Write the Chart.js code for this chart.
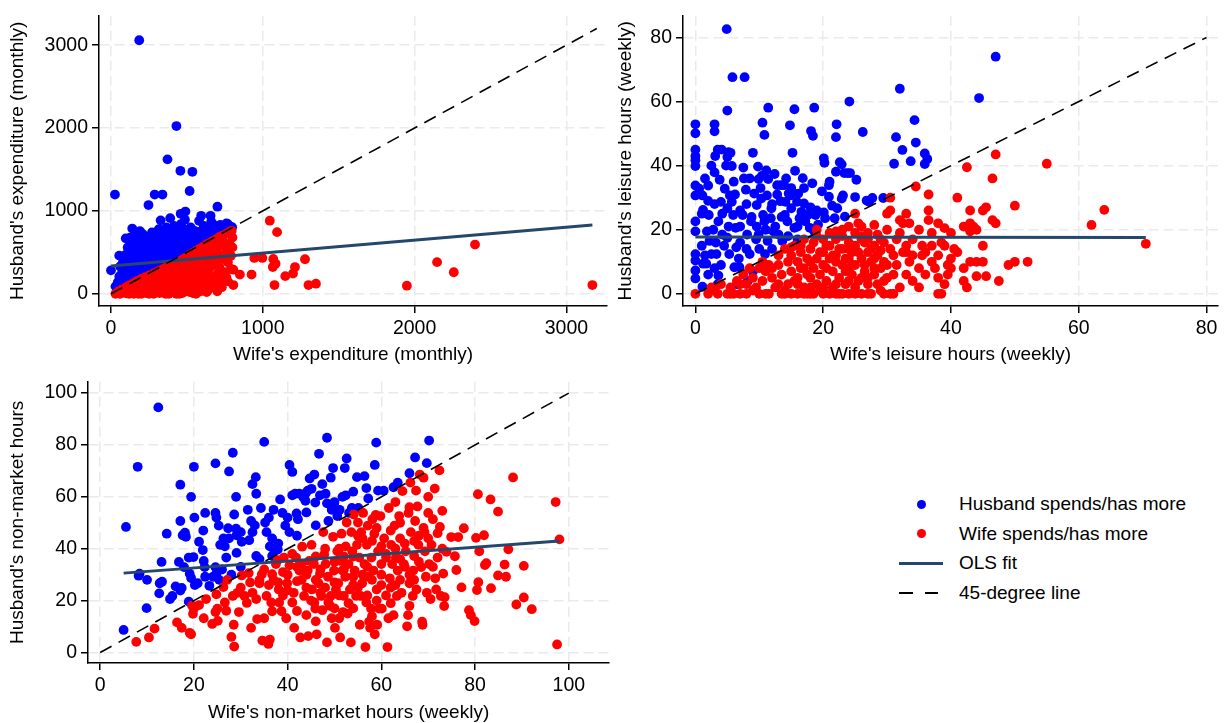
<!DOCTYPE html>
<html>
<head>
<meta charset="utf-8">
<script src="https://cdn.jsdelivr.net/npm/chart.js@4.4.1/dist/chart.umd.min.js"></script>
<style>
  body { margin: 0; background: #fff; width: 1225px; height: 723px; position: relative; overflow: hidden; font-family: 'Liberation Sans', Arial, sans-serif; }
  canvas { position: absolute; }
  .lg-text { position: absolute; left: 959px; font-size: 19px; line-height: 22px; color: #000; white-space: nowrap; }
  .lg-dot { position: absolute; width: 9px; height: 9px; border-radius: 50%; left: 916.5px; }
  .lg-line { position: absolute; height: 3px; background: #24476b; left: 899px; width: 44px; }
  .lg-dash { position: absolute; height: 2px; background: #000; }
</style>
</head>
<body>
<canvas id="expChart" width="612" height="368" style="left:0;top:0"></canvas>
<canvas id="leisureChart" width="613" height="368" style="left:612px;top:0"></canvas>
<canvas id="nmChart" width="614" height="357" style="left:0;top:366px"></canvas>

<div class="lg-dot" style="top:499.5px;background:#0000ff"></div>
<div class="lg-text" style="top:493px">Husband spends/has more</div>
<div class="lg-dot" style="top:529px;background:#ff0000"></div>
<div class="lg-text" style="top:523px">Wife spends/has more</div>
<div class="lg-line" style="top:561.5px"></div>
<div class="lg-text" style="top:552px">OLS fit</div>
<div class="lg-dash" style="top:592px;left:899px;width:14px"></div>
<div class="lg-dash" style="top:592px;left:925px;width:13px"></div>
<div class="lg-text" style="top:582px">45-degree line</div>

<script>
// Tick labels
const expTicks = [0, 1000, 2000, 3000];
const leisureTicksX = [0, 20, 40, 60, 80];
const leisureTicksY = [0, 20, 40, 60, 80];
const nmTicks = [0, 20, 40, 60, 80, 100];

// Panel 1: monthly expenditure (wife x, husband y)
const expHusbandMore = [
  [186,3059],[431,2024],[372,1622],[457,1484],[536,1472],[518,1240],[26,1197],[288,1197],[339,1197],[247,1071],
  [701,1051],[459,965],[490,992],[594,941],[656,941],[390,913],[327,886],[487,894],[768,843],[671,843],
  [684,795],[594,756],[531,776],[140,787],[191,756],[97,669],[125,677],[54,461],[0,283],[727,756],[798,803],
  [30,90],[45,140],[55,210],[60,330],[70,180],[75,270],[80,390],[85,120],[90,230],[95,470],[100,310],[105,170],
  [110,560],[115,380],[120,250],[125,650],[130,440],[135,190],[140,320],[145,520],[150,600],[155,270],[160,400],
  [165,700],[170,220],[175,350],[180,480],[185,560],[190,290],[195,640],[200,380],[205,250],[210,720],[215,450],
  [220,320],[225,530],[230,610],[235,280],[240,400],[245,680],[250,350],[255,480],[260,560],[265,300],[270,740],
  [275,420],[280,620],[285,350],[290,500],[295,700],[300,440],[305,330],[310,580],[315,780],[320,380],[325,520],
  [330,650],[335,400],[340,470],[345,720],[350,560],[355,420],[360,610],[365,800],[370,480],[375,680],[380,530],
  [385,430],[390,740],[395,600],[400,470],[405,660],[410,550],[415,820],[420,500],[425,700],[430,600],[435,480],
  [440,760],[445,560],[450,650],[455,520],[460,840],[465,700],[470,600],[475,540],[480,780],[490,640],[500,580],
  [505,720],[510,660],[520,600],[525,800],[530,680],[540,620],[550,760],[560,700],[570,640],[580,880],[590,720],
  [600,660],[610,820],[620,700],[640,780],[650,740],[660,870],[680,760],[700,800],[720,830],[740,780],[760,850],
  [780,820],[60,150],[150,230],[240,330],[330,440],[420,540],[110,480],[200,540],[290,610],[380,690],[470,760]
];
const expWifeMore = [
  [1046,882],[1094,744],[944,433],[997,433],[1069,421],[1084,362],[1066,323],[926,232],[806,291],[806,106],
  [849,232],[1077,106],[1148,213],[1199,244],[1212,323],[1278,417],[1301,106],[1350,122],[1949,98],[2148,382],
  [2258,260],[2398,594],[3171,106],
  [40,10],[50,30],[60,5],[70,50],[80,20],[90,60],[100,5],[100,80],[110,40],[120,100],[125,15],[130,60],[140,120],
  [145,30],[150,0],[155,90],[160,140],[165,50],[170,10],[175,110],[180,160],[185,70],[190,30],[195,130],[200,180],
  [200,0],[210,90],[215,150],[220,40],[225,200],[230,110],[235,10],[240,170],[245,60],[250,220],[255,130],[260,30],
  [265,190],[270,90],[275,240],[280,0],[280,150],[285,50],[290,210],[295,110],[300,260],[305,20],[310,170],[315,80],
  [320,280],[325,130],[330,230],[335,40],[340,190],[345,300],[350,100],[355,250],[360,0],[360,160],[365,320],[370,60],
  [375,210],[380,280],[385,120],[390,340],[395,20],[400,180],[405,250],[410,80],[415,360],[420,140],[425,300],[430,30],
  [435,220],[440,380],[445,100],[450,270],[450,0],[455,160],[460,400],[465,50],[470,330],[475,200],[480,420],[485,120],
  [490,280],[495,440],[500,30],[500,350],[505,180],[510,460],[515,240],[520,90],[525,390],[530,480],[535,150],[540,300],
  [545,500],[550,60],[555,220],[560,420],[565,520],[570,130],[575,350],[580,540],[585,260],[590,450],[595,100],[600,560],
  [605,320],[610,200],[615,480],[620,580],[625,140],[630,380],[635,600],[640,260],[645,500],[650,70],[655,620],[660,330],
  [665,440],[670,180],[675,640],[680,90],[685,540],[690,380],[695,660],[700,240],[705,480],[710,680],[715,320],[720,580],
  [725,150],[730,700],[740,420],[745,620],[750,260],[755,720],[760,520],[770,380],[775,740],[780,600],[790,460],[795,760],
  [800,680],[800,560],[790,300],[760,200],[730,80],[700,120],[640,50],[590,30],[520,20],[380,0],[320,10],[250,0],
  [180,0],[120,0],[60,0],[30,0],[430,0],[540,10],[470,10],[660,120],[720,240],[770,150],[630,20],[560,0],[700,30]
];
const expOls = [[0, 335], [3171, 831]];
const expDiag = [[0, 0], [3200, 3200]];

// Panel 2: weekly leisure hours
const leisureHusbandMore = [
  [4.9,82.6],[5.8,67.6],[7.7,67.6],[47,74],[32,64],[44.4,61.1],[24.1,60],[5,57.2],[11.4,58.1],[15.5,57.6],
  [18.6,58.1],[0,52.9],[0,50.1],[3,52.9],[3,50.7],[10.5,53.4],[10.8,49.6],[14.8,52.6],[22.1,52.9],[22,48.9],
  [18.1,50.8],[18.4,49.3],[26.2,50.5],[31.4,48.9],[34.3,54.2],[34.5,47.2],[32.4,44.9],[33.7,41.4],[31.1,40.6],
  [35.9,43.8],[36.3,42.1],[35.9,40.5],[0,45],[0,43],[0,41.7],[0,39.9],[0,33.8],[0,30.7],[0,22.6],[0,19.5],
  [0,12.4],[0,10.4],[0,7.3],[0,4.8],[0.6,32.8],[1.1,30.7],[1.2,26.2],[2,33.8],[2.1,24.6],[1.8,19.5],[2.2,16.5],
  [1.2,9.4],[1.1,2.2],[1.7,9.4],[2.5,12.4],[3,37.9],[3.1,43],[3.5,45],[4.1,45],[3.8,35.6],[4,28.7],[3.6,22.6],
  [3.3,12.4],[3.6,5.7],[4.2,18.5],[4.6,32.8],[5,26.7],[5,42.7],[5.2,44.2],[5.5,44],[5.4,30.7],[5.7,28.7],
  [5.9,24.6],[5,17.5],[5.3,12.4],[6.1,8.3],[5.7,39.9],[6.3,20.6],[6.4,14.5],[6.9,8.3],[7.4,24.6],[7.5,39.4],
  [7.9,32.5],[8.1,18.5],[8.5,12.4],[8.7,22.6],[9,44],[9.2,31.3],[9.6,27.7],[9.8,39.7],[9.9,35.8],[9.9,18.5],
  [10.3,29.7],[10.4,36.8],[10.6,24.6],[10.8,22.6],[10.9,12.4],[11.1,38.5],[11.2,30.7],[11.3,16.5],[11.4,35.8],
  [11.8,23.6],[11.9,26.7],[12.2,19.5],[12.4,37.4],[12.8,33.9],[13,18.5],[13.3,28.9],[13.4,33.9],[13.6,16.5],
  [13.9,33.9],[14,24.6],[14.1,28.7],[14.4,22.6],[14.6,31.3],[14.9,30.7],[15,26.7],[15.2,44],[15.5,20.6],
  [15.6,38.4],[15.9,28.7],[16.1,31.3],[16.3,23.6],[16.6,25.6],[16.8,36.1],[17,28.2],[17.2,22.6],[17.6,24.6],
  [17.9,20.6],[18.3,34.5],[18.6,19.5],[18.8,24.6],[19.2,21.6],[20.1,42.3],[20.2,40.9],[20.1,25.4],[20.3,23.6],
  [20.9,33.9],[20.9,30.3],[21.4,27.5],[21.8,23.6],[22,38.1],[22.2,26.7],[22.6,41.1],[22.9,40.4],[22.9,29.7],
  [23.1,30.7],[23.3,37.7],[23.4,24.1],[23.8,37.7],[24.2,37.7],[25,30.2],[25.2,35.6],[26.8,29.1],[27.2,28.7],
  [27.7,29.9],[29.4,29.9],[1,15],[2,6],[3,28],[4,9],[6,35],[7,16],[8,28],[9,7],[10,14],[7,21],[8.5,36],[12,28],
  [6.5,3],[2.8,20],[1.5,36],[4.5,15],[9.5,17],[12.5,21],[14.5,18],[16,17],[11,9],[3.5,3],
  [1,25],[2,29],[3.2,16],[4.2,25],[5.2,21],[6.2,31],[7,26],[8,14],[8.8,24],[9.6,21],[10.2,33],[11,20],[12,14],
  [12.8,31],[13.5,24],[14.2,36],[15,33],[16,21],[17,33],[18,27],[19,26],[19.8,32],[21,35],[6.8,11],[7.6,36],
  [2.5,40],[4.8,40],[1.5,12],[3,8],[8.2,4]
];
const leisureWifeMore = [
  [0,0],[2,0],[3.5,0],[5,0],[5.5,0],[6,0],[7,0],[8,0],[10,0],[11,0],[11.5,0],[13.5,0],[14,0],[15,0],[16,0],
  [17,0],[17.5,0],[18,0],[18.5,0],[20,0],[21,0],[22,0],[22.5,0],[23,0],[24,0],[25,0],[26,0],[27,0],[27.5,0],
  [29.5,0],[30.5,0],[31,0],[38,0],[38.5,0],
  [2.5,2],[3,1.5],[4,3],[5.5,2],[6.5,4],[7.5,6],[8,3],[8.5,8],[9,5],[9.5,2],[10,8],[10.5,4],[11,7],[11.5,9],
  [12,5],[12.5,2],[13,9],[13,12],[13.5,6],[14,14],[14.5,3],[14.5,10],[15,7],[15,12],[15.5,15],[16,5],[16,10],
  [16.5,13],[17,2],[17,8],[17,17],[17.5,11],[18,5],[18,14],[18.5,8],[18.5,16],[19,3],[19,11],[19,18],[19.5,6],
  [20,9],[20,13],[20,17],[20.5,4],[20.5,8],[21,11],[21,15],[21,19],[21.5,2],[21.5,7],[22,12],[22,17],[22,10],
  [22.5,5],[23,9],[23,14],[23,18],[23.5,3],[23.5,7],[24,11],[24,16],[24.5,6],[24.5,13],[25,2],[25,9],[25,15],
  [25,19],[25.5,22],[25,25],[25.5,4],[26,11],[26,17],[26.5,7],[27,13],[27,3],[27.5,10],[28,15],[28,21.5],[28,6],
  [28.5,12],[29,1],[29,8],[29.5,4],[30,20],[29.5,16],[30,25],[30.5,26],[31,12],[31,6],[30.5,30],[31.5,17],[32,2],
  [32,23],[32.5,22],[33,15],[32.5,13],[33.5,22],[33.5,10],[34,12],[34.5,33.5],[35,2],[35.5,15],[35.5,12],[36,6],
  [36.5,31],[36.5,26],[37,19],[37,10],[37.5,8],[38,5],[38,12],[38.5,16],[39,20.5],[39,15],[39.5,6],[39.5,9],
  [40,19],[40,11],[40,8],[40.5,14],[41,30],[41,13],[42,21],[42,8],[42,4],[42.5,2],[42.5,39.5],[43,22],[43,19.5],
  [43,26],[43,10],[43.5,21],[44,20],[44,5.5],[44,10],[45,26],[45,15],[45,10],[45.5,5.5],[45.5,27],[46.5,36],
  [46.5,23],[47,43.5],[47,22],[47.5,4],[49,9],[50,10],[50,27.5],[52,10],[55,40.6],[62,21.5],[64,26.2],[70.5,15.6],
  [36.5,23],[33,13],[26,18],[26.5,16],[27,17],[28.5,18.5],[29,13.5],[28,8],[24,21],[23,20],[26,21],[22,19.5],
  [19,20],[16.5,15],[15,14.5],[24,14],[30,5],[29,17],[12,8],[9,1],[7,3],[14,1],[19.5,1],[24,4],[27,5],
  [13,3],[15.5,4],[16.5,8],[17.5,6],[18,10],[19.5,13],[20.5,15],[21.5,12],[22.5,14],[23.5,11],[24.5,9],[25.5,13],
  [26.5,9],[27,19],[27.5,14],[28.5,3],[29.5,10],[30.5,14],[31.5,9],[32,19],[33,6],[34,17],[35,20],[35,8],
  [36,13],[37,15],[38,22],[39,3],[20,2],[22,3],[24,8],[26,5],[28,11],[30,9],[33,25],[34,4],[16,3],[18,2],[10.5,10]
];
const leisureOls = [[0, 17.7], [70.5, 17.6]];
const leisureDiag = [[0, 0], [80, 80]];

// Panel 3: weekly non-market hours
const nmHusbandMore = [
  [5.5,48.4],[5,8.7],[8,71.6],[12.4,94.5],[8.4,30.4],[8.2,29.6],[10,28],[9.9,17.1],[13.1,34.9],[12.7,26.7],
  [13.2,27.3],[12.6,22.8],[14.2,45.8],[17.1,64.7],[17.1,50.7],[17.6,45.2],[18.1,46.2],[18.3,44.6],[19.4,60],
  [20,71.6],[20.1,52],[14.9,20.6],[15.4,21.8],[16.1,25.5],[17.1,23.9],[17.4,24.9],[16.8,34.9],[17.9,32.9],
  [18.9,36.6],[19.9,36.8],[19.1,30.4],[19.4,28.7],[20.2,26],[20.8,26.7],[18.9,19.6],[22.4,53.8],[24.6,72.9],
  [24.6,53.8],[24.8,52],[25.3,48.9],[22,47],[21.1,42.7],[21.9,39.5],[22.1,35.3],[22.3,32.9],[22.4,29.2],
  [23.3,25.7],[24.1,29.2],[24.6,32.9],[24.8,30.4],[25.4,28],[25.6,41.5],[26.3,44],[26.6,40.9],[26.9,36.6],
  [27.3,47.9],[27.5,69.8],[27.5,44],[28.3,77],[28.6,53.2],[29,47.7],[29.1,45.2],[29.1,38.4],[30,46.4],
  [30.2,42.7],[31.5,55],[31.8,43.3],[32.5,64.9],[33.2,67.6],[33.3,61.2],[32.2,50.7],[32.5,46.4],[33.3,37.2],
  [34.3,55.7],[35,81.2],[35.2,50.1],[35.5,46.4],[36,52],[36.2,40.9],[36.7,44],[36.7,37.2],[37.2,39],[37.9,39.7],
  [38.4,59],[38.9,53.8],[39.5,48.9],[40,52],[40.4,46.4],[40.4,72.3],[41,69.6],[41,60.6],[41.6,61.2],[41.9,53.6],
  [42.2,51.4],[42.5,61.2],[43.4,59.7],[43.9,61.5],[44.3,62.4],[43.8,58.5],[44.7,67.1],[45.1,63.1],[45.7,68.6],
  [45.9,57.8],[46.7,76.6],[46.9,60.6],[47.4,64.9],[48.1,61.2],[48.4,82.8],[48.4,57.5],[48.7,50.7],[49.2,67.4],
  [49.4,55],[49.7,71.1],[49.9,57.5],[50.6,52.6],[51.1,55],[51.7,60],[52.2,71.1],[52.6,74.8],[52.4,60.6],
  [53.1,53.8],[53.7,55.7],[54.8,67.6],[55.1,55.7],[56.4,68],[56.8,63.4],[57.2,59.4],[58.6,72.3],[58.9,80.9],
  [59.3,62.4],[60.5,62.4],[62.6,63.7],[63.5,65.5],[66,69.1],[67.2,75.2],[69.7,73],[70.2,81.7],
  [28,30],[30,33],[34,36],[26,32],[38,42],[42,45],[46,49],[44,54],[50,58],[54,62],[33,49],[37,55],[29,60]
];
const nmWifeMore = [
  [7.7,4.1],[10.4,5.8],[11.6,9.2],[16.4,11.6],[17.4,9.5],[19.4,7],[19.1,7.6],[20,16.9],[19.8,14.9],[19.6,18.1],
  [21.1,18.3],[22.1,13.2],[22.6,20.6],[23.9,11],[24.6,15.6],[25.1,12.2],[24.8,22.4],[25,16.9],[26.3,25.2],
  [26.6,19.3],[26.9,16.1],[28,6],[28.5,10.7],[28.6,2.3],[27.1,28],[28.3,21.8],[29.3,23],[29.6,15.6],[30.2,29.7],
  [30.8,21.8],[31.3,19.1],[31.7,30.6],[32.2,9.5],[32.5,23],[33.3,20.6],[33.5,12.9],[34,26.7],[34.5,30.2],
  [34.6,4.6],[35,13.2],[35.5,21.8],[35.9,3.3],[36.2,5],[36.5,19.3],[36.7,15.9],[36.7,30.2],[37.5,34.1],[37.9,35.6],
  [38.1,24.3],[38.2,19.3],[38.7,15.9],[39.2,36.6],[39.7,13.2],[39.9,26.7],[40.4,33.6],[41,19.3],[41.3,23],
  [41.4,9.5],[41.8,36.6],[42,27.5],[42.5,31.6],[42.7,5.8],[43.1,40.8],[43.5,21.8],[44,14.4],[44.3,31.6],
  [44.4,6.3],[44.6,35.3],[45.1,41.5],[45.2,24.3],[45.6,34.1],[45.7,19.3],[45.9,16.9],[46.2,7],[46.6,26.7],
  [46.9,30.4],[47.2,21.8],[47.4,16.3],[47.6,46.4],[47.8,37.8],[48.1,34.1],[48.4,3.9],[48.6,29.2],[48.7,19.3],
  [49.2,21.8],[49.4,13.2],[49.7,44.6],[49.9,31.6],[50.1,9.5],[50.3,24.3],[50.6,39],[50.8,26.7],[51,13.2],
  [51.2,5.8],[51.3,35.3],[51.5,45.8],[51.7,31.6],[51.8,15.6],[52,21.8],[52.3,29.2],[52.4,40.9],[52.6,50.1],
  [52.8,15],[53,34.1],[53.3,24.3],[53.5,3.9],[53.6,46.4],[53.8,39],[54,29.2],[54.1,53.2],[54.3,31.6],[54.6,21.8],
  [54.8,41.5],[55,50.1],[55.3,36.6],[55.4,10.7],[55.6,21.8],[55.7,46.4],[55.9,26.7],[56.1,53.8],[56.4,34.1],
  [56.6,2.1],[56.8,19.3],[56.9,41.5],[57.1,48.9],[57.3,29.2],[57.4,11.9],[57.6,9.5],[57.8,16.9],[57.9,36.6],
  [58.1,51.4],[58.3,31.6],[58.5,45.8],[58.6,7],[58.8,53],[59,24.3],[59.1,10.7],[59.3,39],[59.5,16.9],[59.8,52.6],
  [60,34.1],[60.1,16.9],[60.6,44],[61,36.6],[61.3,2.1],[61.5,13.2],[61.6,55.7],[61.8,28.6],[62.1,41.5],[62.3,34.1],
  [62.6,14.4],[62.8,48.9],[63.1,36.6],[63.3,21.8],[63.5,31.6],[63.8,52.6],[64,44],[64.3,23],[64.5,62.2],[64.8,34.1],
  [65.2,39],[65.5,10.1],[65.7,14.4],[65.8,53.8],[66,26.7],[66.2,65.5],[66.3,46.4],[66.7,21.8],[66.8,31.6],[67,37.2],
  [67.2,50.7],[67.4,62.4],[67.5,24.3],[67.7,56.3],[67.9,41.5],[68.2,68.6],[68.5,32.9],[68.7,11.9],[68.8,10.7],
  [69,67.4],[69.2,46.4],[69.3,39],[69.5,29.2],[69.7,23],[70,53.8],[70.2,34.1],[70.5,20.6],[70.7,41.5],[71,51.4],
  [71.4,63.2],[71.5,28.6],[71.7,24.3],[72,36.6],[72.4,70.2],[72.5,48.4],[72.7,21.8],[73,54.6],[73.2,30.4],
  [73.4,17.9],[73.5,21.3],[73.9,38.8],[74.9,44.5],[75.7,37.1],[76,31.8],[76.4,44.5],[77.1,25.1],[77.6,47.9],
  [78.7,16.3],[79.1,14.4],[79.9,12.1],[80.2,44.2],[80.4,24.1],[80.6,61],[80.7,27.1],[80.9,39],[81.9,45.2],
  [82.1,33.7],[82.4,34.4],[83.3,59],[83.4,24.8],[84.9,54.3],[84.9,29.7],[86.3,33.9],[86.6,29.2],[87.1,39.8],
  [88.1,67.5],[88.8,18.5],[90.4,33.4],[90.4,21.2],[92.1,16.7],[97.2,58],[97.5,3.1],[98,43.6],
  [44,30],[46,28],[48,25],[50,27],[52,32],[54,26],[56,30],[58,28],[60,30],[62,25],[64,28],[66,30],[45,20],
  [47,23],[49,18],[51,22],[53,19],[55,25],[57,22],[59,20],[61,22],[63,26],[65,33],[67,28],[42,33],[43,28],
  [40,30],[38,27],[36,26],[34,28],[41,38],[46,37],[52,37],[58,43],[62,47],[64,50],[67,43],[69,48],[70,44],
  [72,46],[73,40],[60,41],[56,44],[54,37],[50,35],[48,40],[44,25],[40,24],[57,33],[61,38],[65,42],[68,35],
  [71,33],[63,40],[59,48],[55,45],[51,40],[47,32],[43,34],[39,31],[35,32],[32,27],[30,25],[62,19],[66,18],
  [58,14],[54,17],[50,17],[46,12],[42,16],[39,22],[37,28],[60,26],[64,36],[68,45],[70,60],[66,56],[63,58]
];
const nmOls = [[5, 30.6], [98, 43]];
const nmDiag = [[0, 0], [100, 100]];

const BLUE = '#0000ff';
const RED = '#ff0000';
const OLS_COLOR = '#24476b';
const FONT = { family: "'Liberation Sans', Arial, sans-serif", size: 19.5 };

function toPoints(arr) {
    return arr.map(p => ({ x: p[0], y: p[1] }));
}

function buildAxis(min, max, ticks, title, size, titlePad) {
    return {
        type: 'linear',
        min: min,
        max: max,
        afterBuildTicks: function(scale) {
            scale.ticks = ticks.map(v => ({ value: v }));
        },
        afterFit: function(scale) {
            if (scale.isHorizontal()) {
                scale.height = size;
            } else {
                scale.width = size;
            }
        },
        ticks: {
            color: '#000',
            font: FONT,
            padding: 4,
            maxRotation: 0,
            autoSkip: false,
            // plain numbers, no thousands separator
            callback: function(value) {
                return String(value);
            }
        },
        grid: {
            color: '#eaeaea',
            lineWidth: 1.5,
            tickLength: 7,
            tickColor: '#000',
            tickWidth: 1.5,
            tickBorderDash: []
        },
        border: {
            color: '#000',
            width: 1.5,
            dash: [10, 5]
        },
        title: {
            display: true,
            text: title,
            color: '#000',
            font: { family: FONT.family, size: 19, lineHeight: 1 },
            padding: titlePad
        }
    };
}

function makePanel(canvasId, cfg) {
    const ctx = document.getElementById(canvasId);
    return new Chart(ctx, {
        type: 'scatter',
        data: {
            datasets: [
                {
                    label: '45-degree line',
                    data: toPoints(cfg.diag),
                    showLine: true,
                    borderColor: '#000',
                    borderWidth: 1.6,
                    borderDash: [13, 8],
                    pointRadius: 0,
                    order: 0
                },
                {
                    label: 'OLS fit',
                    data: toPoints(cfg.ols),
                    showLine: true,
                    borderColor: OLS_COLOR,
                    borderWidth: 3,
                    pointRadius: 0,
                    order: 1
                },
                {
                    label: 'Wife spends/has more',
                    data: toPoints(cfg.wife),
                    backgroundColor: RED,
                    borderWidth: 0,
                    pointRadius: 4.9,
                    order: 2
                },
                {
                    label: 'Husband spends/has more',
                    data: toPoints(cfg.husband),
                    backgroundColor: BLUE,
                    borderWidth: 0,
                    pointRadius: 4.9,
                    order: 3
                }
            ]
        },
        options: {
            responsive: false,
            animation: false,
            devicePixelRatio: 1,
            layout: { padding: cfg.padding },
            plugins: {
                legend: { display: false },
                tooltip: { enabled: false }
            },
            scales: {
                x: buildAxis(cfg.x[0], cfg.x[1], cfg.xTicks, cfg.xTitle, cfg.xSize, { bottom: cfg.xTitlePad }),
                y: buildAxis(cfg.y[0], cfg.y[1], cfg.yTicks, cfg.yTitle, cfg.ySize, { top: cfg.yTitlePad })
            }
        }
    });
}

makePanel('expChart', {
    husband: expHusbandMore, wife: expWifeMore, ols: expOls, diag: expDiag,
    x: [-79, 3268], y: [-147, 3355], xTicks: expTicks, yTicks: expTicks,
    xTitle: "Wife's expenditure (monthly)", yTitle: "Husband's expenditure (monthly)",
    xSize: 62, ySize: 99, xTitlePad: 3.5, yTitlePad: 8.5,
    padding: { top: 10, right: 2, left: 0, bottom: 0 }
});

makePanel('leisureChart', {
    husband: leisureHusbandMore, wife: leisureWifeMore, ols: leisureOls, diag: leisureDiag,
    x: [-1.94, 81.8], y: [-3.8, 86.8], xTicks: leisureTicksX, yTicks: leisureTicksY,
    xTitle: "Wife's leisure hours (weekly)", yTitle: "Husband's leisure hours (weekly)",
    xSize: 62, ySize: 71, xTitlePad: 3.5, yTitlePad: 4.2,
    padding: { top: 10, right: 7, left: 0, bottom: 0 }
});

makePanel('nmChart', {
    husband: nmHusbandMore, wife: nmWifeMore, ols: nmOls, diag: nmDiag,
    x: [-2.6, 108.6], y: [-4.05, 104.4], xTicks: nmTicks, yTicks: nmTicks,
    xTitle: "Wife's non-market hours (weekly)", yTitle: "Husband's non-market hours",
    xSize: 60, ySize: 88, xTitlePad: 0.5, yTitlePad: 8.5,
    padding: { top: 3, right: 2, left: 0, bottom: 0 }
});
</script>
</body>
</html>
